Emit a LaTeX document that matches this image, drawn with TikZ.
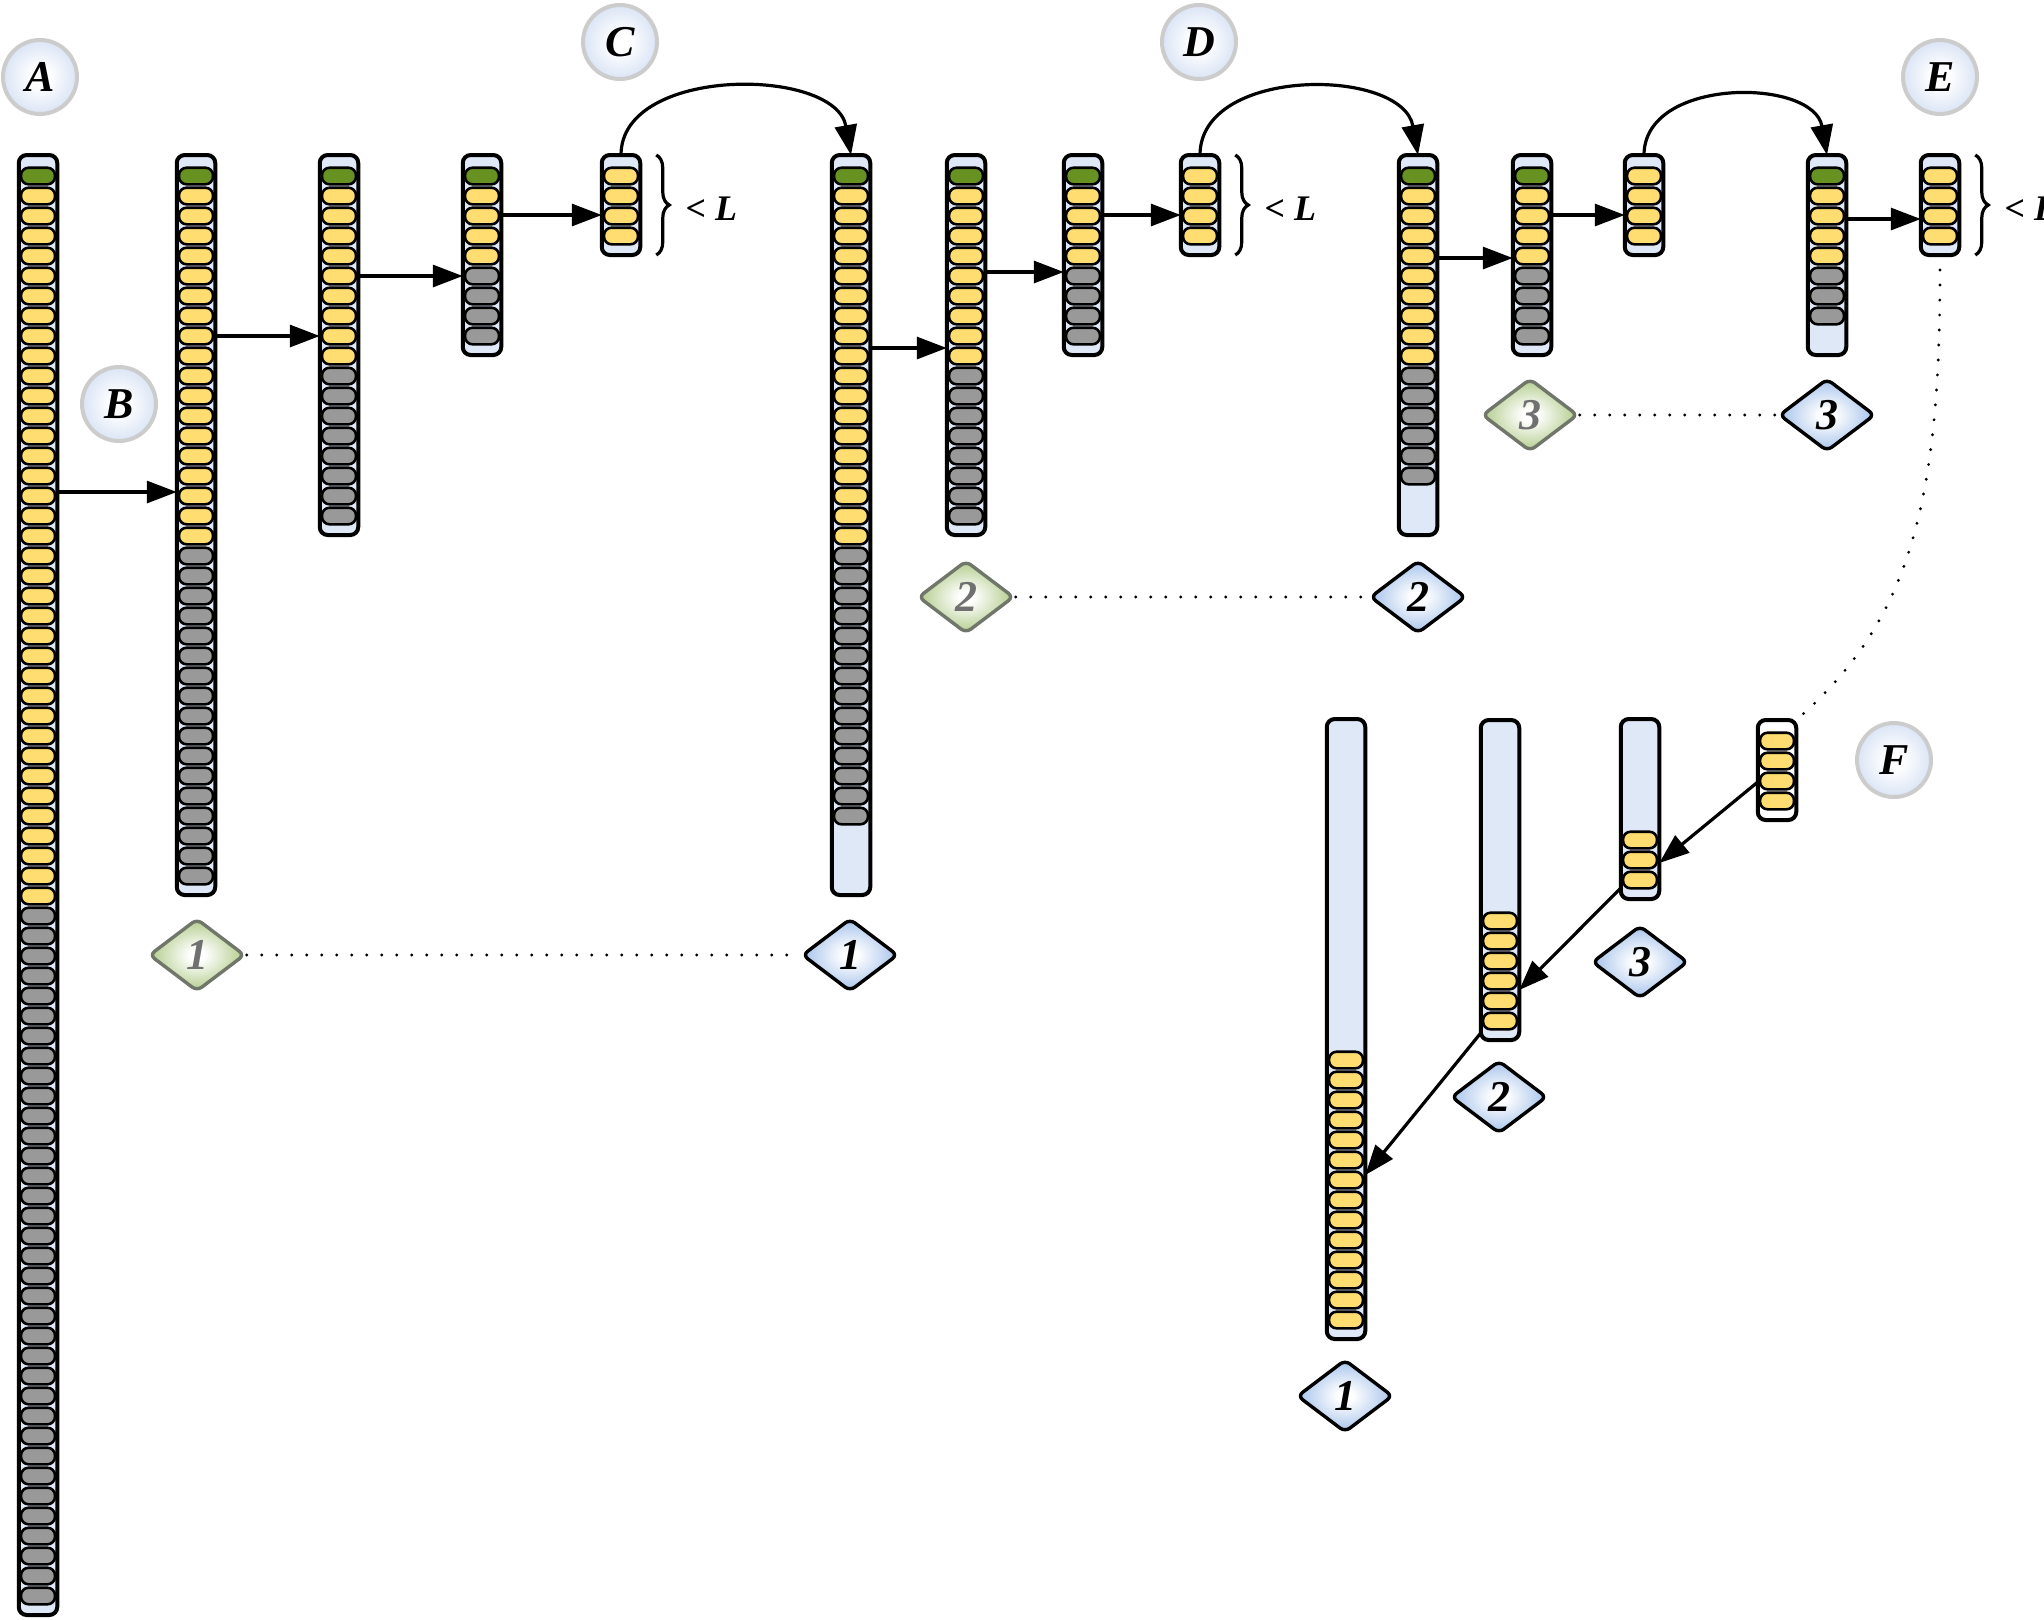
\documentclass[tikz,border=0pt]{standalone}
\usepackage{fontspec}
\setmainfont{Liberation Serif}
\usetikzlibrary{shapes.geometric,arrows.meta,decorations.pathreplacing,calc}
\definecolor{stripblue}{RGB}{223,232,247}
\definecolor{cellyellow}{RGB}{255,221,113}
\definecolor{cellgreen}{RGB}{103,146,34}
\definecolor{cellgray}{RGB}{153,153,153}
\definecolor{circedge}{RGB}{204,204,204}
\definecolor{circout}{RGB}{190,208,238}
\definecolor{dblue}{RGB}{145,180,230}
\definecolor{dgreen}{RGB}{160,192,112}
\definecolor{dgreenedge}{RGB}{112,118,106}
\definecolor{dgreentext}{RGB}{112,112,112}
\pgfdeclareradialshading{circsh}{\pgfpoint{0bp}{0bp}}{color(0bp)=(white); color(6bp)=(white); color(40bp)=(circout); color(50bp)=(circout)}
\pgfdeclareradialshading{bluesh}{\pgfpoint{0bp}{0bp}}{color(0bp)=(white); color(4bp)=(white); color(30bp)=(dblue); color(50bp)=(dblue)}
\pgfdeclareradialshading{greensh}{\pgfpoint{0bp}{0bp}}{color(0bp)=(white); color(4bp)=(white); color(30bp)=(dgreen); color(50bp)=(dgreen)}
\tikzset{
  stripbox/.style={draw=black,line width=2pt,rounded corners=4pt,fill=stripblue,minimum width=19.25pt,inner sep=0pt,outer sep=0pt},
  cellbox/.style={draw=black,line width=1.3pt,rounded corners=3.8pt,minimum width=17pt,minimum height=8.3pt,inner sep=0pt},
  lbl/.style={circle,draw=circedge,line width=2pt,shade,shading=circsh,minimum size=37pt,inner sep=0pt,font=\fontsize{22}{24}\selectfont\bfseries\itshape},
  dmd/.style={diamond,rounded corners=3pt,line width=1.7pt,minimum width=48pt,minimum height=36.5pt,inner sep=0pt,font=\fontsize{22}{24}\selectfont\bfseries\itshape},
  dmdblue/.style={dmd,draw=black,shade,shading=bluesh},
  dmdgreen/.style={dmd,draw=dgreenedge,shade,shading=greensh,text=dgreentext},
  arr/.style={line width=1.6pt,-{Triangle[length=15pt,width=11pt]}},
  dots/.style={line width=1.6pt,line cap=round,dash pattern=on 0pt off 7.5pt},
  brc/.style={decorate,decoration={brace,amplitude=6.5pt},line width=1.6pt},
  lt/.style={anchor=west,font=\fontsize{18}{20}\selectfont\bfseries\itshape,inner sep=0pt}
}
\newcommand\mkstrip[5]{%
  \node[stripbox,minimum height={(20*#4+20)*0.5pt},#5] (#1) at (#2,{-(#3+10*#4+12)}) {};%
}
\newcommand\mkcells[6]{%
  \foreach \k in {#4,...,#5}{%
    \node[cellbox,fill=#6] (#1-\k) at (#2,{-(#3+23+20*\k)}) {};%
  }%
}
\begin{document}
\begin{tikzpicture}[x=0.5pt,y=0.5pt]
\useasboundingbox (0,0) rectangle (2044,-1619);
% labels
\node[lbl] (lA) at (40,-77) {A};
\node[lbl] (lB) at (119,-404) {B};
\node[lbl] (lC) at (620,-42) {C};
\node[lbl] (lD) at (1199,-42) {D};
\node[lbl] (lE) at (1940,-77) {E};
\node[lbl] (lF) at (1894,-760) {F};
% group 1
\mkstrip{A}{38}{153}{72}{}
\mkcells{A}{38}{153}{0}{0}{cellgreen}
\mkcells{A}{38}{153}{1}{36}{cellyellow}
\mkcells{A}{38}{153}{37}{71}{cellgray}
\mkstrip{B}{196}{153}{36}{}
\mkcells{B}{196}{153}{0}{0}{cellgreen}
\mkcells{B}{196}{153}{1}{18}{cellyellow}
\mkcells{B}{196}{153}{19}{35}{cellgray}
\mkstrip{s3}{339}{153}{18}{}
\mkcells{s3}{339}{153}{0}{0}{cellgreen}
\mkcells{s3}{339}{153}{1}{9}{cellyellow}
\mkcells{s3}{339}{153}{10}{17}{cellgray}
\mkstrip{s4}{482}{153}{9}{}
\mkcells{s4}{482}{153}{0}{0}{cellgreen}
\mkcells{s4}{482}{153}{1}{4}{cellyellow}
\mkcells{s4}{482}{153}{5}{8}{cellgray}
\mkstrip{C}{621}{153}{4}{}
\mkcells{C}{621}{153}{0}{3}{cellyellow}
% group 2
\mkstrip{G1}{851}{153}{36}{}
\mkcells{G1}{851}{153}{0}{0}{cellgreen}
\mkcells{G1}{851}{153}{1}{18}{cellyellow}
\mkcells{G1}{851}{153}{19}{32}{cellgray}
\mkstrip{G2}{966}{153}{18}{}
\mkcells{G2}{966}{153}{0}{0}{cellgreen}
\mkcells{G2}{966}{153}{1}{9}{cellyellow}
\mkcells{G2}{966}{153}{10}{17}{cellgray}
\mkstrip{G3}{1083}{153}{9}{}
\mkcells{G3}{1083}{153}{0}{0}{cellgreen}
\mkcells{G3}{1083}{153}{1}{4}{cellyellow}
\mkcells{G3}{1083}{153}{5}{8}{cellgray}
\mkstrip{D}{1200}{153}{4}{}
\mkcells{D}{1200}{153}{0}{3}{cellyellow}
% group 3
\mkstrip{H1}{1418}{153}{18}{}
\mkcells{H1}{1418}{153}{0}{0}{cellgreen}
\mkcells{H1}{1418}{153}{1}{9}{cellyellow}
\mkcells{H1}{1418}{153}{10}{15}{cellgray}
\mkstrip{H2}{1532}{153}{9}{}
\mkcells{H2}{1532}{153}{0}{0}{cellgreen}
\mkcells{H2}{1532}{153}{1}{4}{cellyellow}
\mkcells{H2}{1532}{153}{5}{8}{cellgray}
\mkstrip{H3}{1644}{153}{4}{}
\mkcells{H3}{1644}{153}{0}{3}{cellyellow}
\mkstrip{H4}{1827}{153}{9}{}
\mkcells{H4}{1827}{153}{0}{0}{cellgreen}
\mkcells{H4}{1827}{153}{1}{4}{cellyellow}
\mkcells{H4}{1827}{153}{5}{7}{cellgray}
\mkstrip{E}{1940}{153}{4}{}
\mkcells{E}{1940}{153}{0}{3}{cellyellow}
% group F
\mkstrip{F1}{1346}{717}{30}{}
\mkcells{F1}{1346}{717}{16}{29}{cellyellow}
\mkstrip{F2}{1500}{718}{15}{}
\mkcells{F2}{1500}{718}{9}{14}{cellyellow}
\mkstrip{F3}{1640}{717}{8}{}
\mkcells{F3}{1640}{717}{5}{7}{cellyellow}
\mkstrip{F4}{1777}{718}{4}{fill=white}
\mkcells{F4}{1777}{718}{0}{3}{cellyellow}
% straight arrows
\draw[arr] (A.east |- 0,-492) -- (B.west |- 0,-492);
\draw[arr] (B.east |- 0,-336) -- (s3.west |- 0,-336);
\draw[arr] (s3.east |- 0,-276) -- (s4.west |- 0,-276);
\draw[arr] (s4.east |- 0,-215) -- (C.west |- 0,-215);
\draw[arr] (G1.east |- 0,-348) -- (G2.west |- 0,-348);
\draw[arr] (G2.east |- 0,-272) -- (G3.west |- 0,-272);
\draw[arr] (G3.east |- 0,-215) -- (D.west |- 0,-215);
\draw[arr] (H1.east |- 0,-258) -- (H2.west |- 0,-258);
\draw[arr] (H2.east |- 0,-215) -- (H3.west |- 0,-215);
\draw[arr] (H4.east |- 0,-219) -- (E.west |- 0,-219);
% curved arrows
\draw[arr] (C.north) to[out=90,in=100] (G1.north);
\draw[arr] (D.north) to[out=90,in=100,looseness=1.05] (H1.north);
\draw[arr] (H3.north) to[out=90,in=100,looseness=1.1] (H4.north);
% F arrows
\draw[arr] ($(F4.west)+(0,-12)$) -- ($(F3.east)+(0,-54)$);
\draw[arr] ($(F3.south west)+(0,11)$) -- ($(F2.east)+(0,-110)$);
\draw[arr] ($(F2.south west)+(0,7)$) -- ($(F1.east)+(0,-146)$);
% braces
\draw[brc] ($(C.north east)+(16,0)$) -- ($(C.south east)+(16,0)$);
\node[lt] (tC) at ($(C.east)+(45,-4)$) {< L};
\draw[brc] ($(D.north east)+(16,0)$) -- ($(D.south east)+(16,0)$);
\node[lt] (tD) at ($(D.east)+(45,-4)$) {< L};
\draw[brc] ($(E.north east)+(16,0)$) -- ($(E.south east)+(16,0)$);
\node[lt] (tE) at ($(E.east)+(45,-4)$) {< L};
% diamonds
\node[dmdgreen] (g1) at (197,-955) {1};
\node[dmdblue] (b1) at (850,-955) {1};
\node[dmdgreen] (g2) at (966,-597) {2};
\node[dmdblue] (b2) at (1418,-597) {2};
\node[dmdgreen] (g3) at (1530,-415) {3};
\node[dmdblue] (b3) at (1827,-415) {3};
\node[dmdblue] (f3d) at (1640,-962) {3};
\node[dmdblue] (f2d) at (1499,-1097) {2};
\node[dmdblue] (f1d) at (1345,-1396) {1};
% dotted
\draw[dots] (g1.east) -- (b1.west);
\draw[dots] (g2.east) -- (b2.west);
\draw[dots] (g3.east) -- (b3.west);
\draw[dots] ($(E.south)+(0,-15)$) .. controls +(0,-235) and +(113,98) .. (F4.north east);
\end{tikzpicture}
\end{document}
